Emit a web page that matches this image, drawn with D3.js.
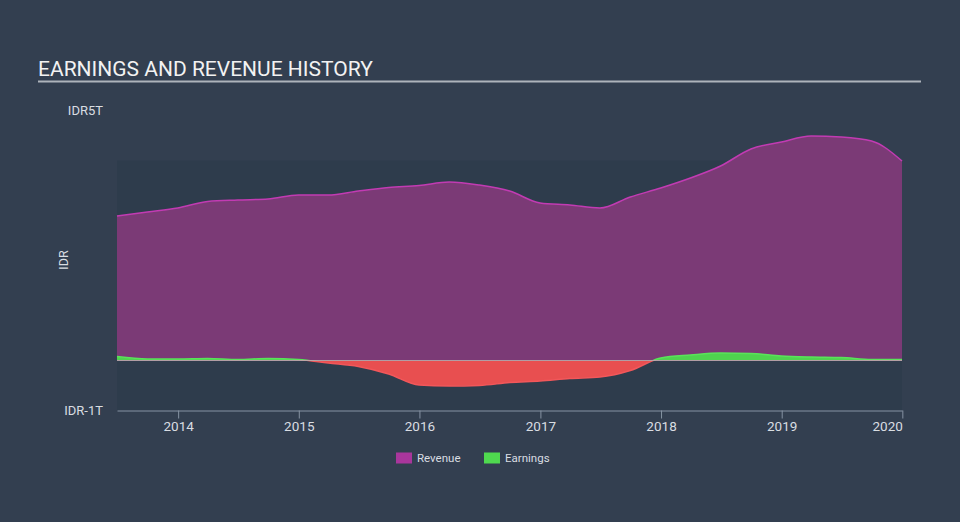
<!DOCTYPE html>
<html>
<head>
<meta charset="utf-8">
<script src="https://cdn.jsdelivr.net/npm/d3@7/dist/d3.min.js"></script>
<style>
  html, body { margin: 0; padding: 0; background: #333f50; }
  svg { display: block; font-family: Roboto, "Noto Sans", sans-serif; }
</style>
</head>
<body>
<svg id="chart" width="960" height="522"></svg>
<script>
// ---- data (IDR trillions, quarterly) ----
const dates = [
  "2013-06-30","2013-09-30","2013-12-31","2014-03-31","2014-06-30","2014-09-30",
  "2014-12-31","2015-03-31","2015-06-30","2015-09-30","2015-12-31","2016-03-31",
  "2016-06-30","2016-09-30","2016-12-31","2017-03-31","2017-06-30","2017-09-30",
  "2017-12-31","2018-03-31","2018-06-30","2018-09-30","2018-12-31","2019-03-31",
  "2019-06-30","2019-09-30","2019-12-31"
];
const revenue = [
  2.89, 2.97, 3.05, 3.18, 3.21, 3.23, 3.31, 3.31, 3.39, 3.46, 3.50, 3.57,
  3.51, 3.39, 3.15, 3.11, 3.05, 3.27, 3.45, 3.65, 3.89, 4.23, 4.37, 4.49,
  4.47, 4.39, 3.99
];
const earnings = [
  0.08, 0.03, 0.03, 0.04, 0.02, 0.04, 0.02, -0.05, -0.12, -0.27, -0.49, -0.51,
  -0.50, -0.44, -0.41, -0.36, -0.33, -0.20, 0.05, 0.11, 0.15, 0.14, 0.09, 0.07,
  0.06, 0.02, 0.02
];
const xTickYears = [2014, 2015, 2016, 2017, 2018, 2019, 2020];
const yTickValues = [-1, 5];
const yTickLabels = ["IDR-1T", "IDR5T"];
const seriesNames = ["Revenue", "Earnings"];

(function () {
const parse = d3.timeParse("%Y-%m-%d");
const data = dates.map((d, i) => ({ date: parse(d), rev: revenue[i], earn: earnings[i] }));

const svg = d3.select("#chart");
const W = 960, H = 522;
const pLeft = 117, pRight = 902, pTop = 110.5, pBottom = 410.5;

const x = d3.scaleTime()
  .domain([parse("2013-06-30"), parse("2019-12-31")])
  .range([pLeft, pRight]);
const y = d3.scaleLinear().domain([-1, 5]).range([pBottom, pTop]);

// title
svg.append("text")
  .attr("x", 38).attr("y", 76)
  .attr("fill", "#f2f2f2")
  .attr("font-size", 21)
  .text("EARNINGS AND REVENUE HISTORY");
svg.append("line")
  .attr("x1", 38).attr("x2", 921).attr("y1", 81.5).attr("y2", 81.5)
  .attr("stroke", "#aeb4bb").attr("stroke-width", 2);

// plot background (from 4T down to -1T)
svg.append("rect")
  .attr("x", pLeft).attr("y", y(4))
  .attr("width", pRight - pLeft).attr("height", y(-1) - y(4))
  .attr("fill", "#2e3c4c");

// revenue area
const curve = d3.curveMonotoneX;
svg.append("path").datum(data)
  .attr("d", d3.area().curve(curve).x(d => x(d.date)).y0(y(0)).y1(d => y(d.rev)))
  .attr("fill", "#7b3a76");
svg.append("path").datum(data)
  .attr("d", d3.line().curve(curve).x(d => x(d.date)).y(d => y(d.rev)))
  .attr("fill", "none").attr("stroke", "#c23bb3").attr("stroke-width", 1.5);

// earnings area with pos/neg clip
const defs = svg.append("defs");
defs.append("clipPath").attr("id", "clipPos")
  .append("rect").attr("x", pLeft).attr("y", 0).attr("width", pRight - pLeft).attr("height", y(0));
defs.append("clipPath").attr("id", "clipNeg")
  .append("rect").attr("x", pLeft).attr("y", y(0)).attr("width", pRight - pLeft).attr("height", H - y(0));

const earnArea = d3.area().curve(curve).x(d => x(d.date)).y0(y(0)).y1(d => y(d.earn));
const earnLine = d3.line().curve(curve).x(d => x(d.date)).y(d => y(d.earn));

svg.append("path").datum(data).attr("d", earnArea)
  .attr("fill", "#4fd34f").attr("clip-path", "url(#clipPos)");
svg.append("path").datum(data).attr("d", earnLine)
  .attr("fill", "none").attr("stroke", "#5ae35a").attr("stroke-width", 1.5)
  .attr("clip-path", "url(#clipPos)");
svg.append("path").datum(data).attr("d", earnArea)
  .attr("fill", "#e84f50").attr("clip-path", "url(#clipNeg)");
svg.append("path").datum(data).attr("d", earnLine)
  .attr("fill", "none").attr("stroke", "#f2575a").attr("stroke-width", 1.5)
  .attr("clip-path", "url(#clipNeg)");

// zero line
svg.append("line")
  .attr("x1", pLeft).attr("x2", pRight).attr("y1", y(0)).attr("y2", y(0))
  .attr("stroke", "#c9b9c4").attr("stroke-opacity", 0.7).attr("stroke-width", 1);

// x axis
const xAxis = d3.axisBottom(x)
  .tickValues(xTickYears.map(yr => new Date(yr, 0, 1)))
  .tickFormat(d3.timeFormat("%Y"))
  .tickSize(8).tickSizeOuter(0).tickPadding(3);
const gx = svg.append("g").attr("transform", `translate(0,${pBottom})`).call(xAxis);
gx.select(".domain").attr("stroke", "#8693a3");
gx.selectAll(".tick line").attr("stroke", "#8693a3");
gx.selectAll(".tick text").attr("fill", "#d9dde2").attr("font-size", 13.5)
  .attr("font-family", "Roboto, sans-serif")
  .attr("text-anchor", (d, i) => i === xTickYears.length - 1 ? "end" : "middle");

// y axis labels
const yAxis = d3.axisLeft(y).tickValues(yTickValues)
  .tickFormat((d, i) => yTickLabels[i]).tickSize(0).tickPadding(14);
const gy = svg.append("g").attr("transform", `translate(${pLeft},0)`).call(yAxis);
gy.select(".domain").remove();
gy.selectAll(".tick text").attr("fill", "#d9dde2").attr("font-size", 13)
  .attr("font-family", "Roboto, sans-serif");

// y axis title
svg.append("text")
  .attr("transform", "translate(68,260) rotate(-90)")
  .attr("text-anchor", "middle")
  .attr("fill", "#d9dde2").attr("font-size", 12.5)
  .text("IDR");

// legend
const legendColors = ["#a9369c", "#4fd94f"];
const legendX = [396, 484];
const lg = svg.append("g");
seriesNames.forEach((name, i) => {
  lg.append("rect").attr("x", legendX[i]).attr("y", 452.5)
    .attr("width", 16).attr("height", 11).attr("fill", legendColors[i]);
  lg.append("text").attr("x", legendX[i] + 21).attr("y", 462)
    .attr("fill", "#d9dde2").attr("font-size", 11.5).text(name);
});
})();
</script>
</body>
</html>
